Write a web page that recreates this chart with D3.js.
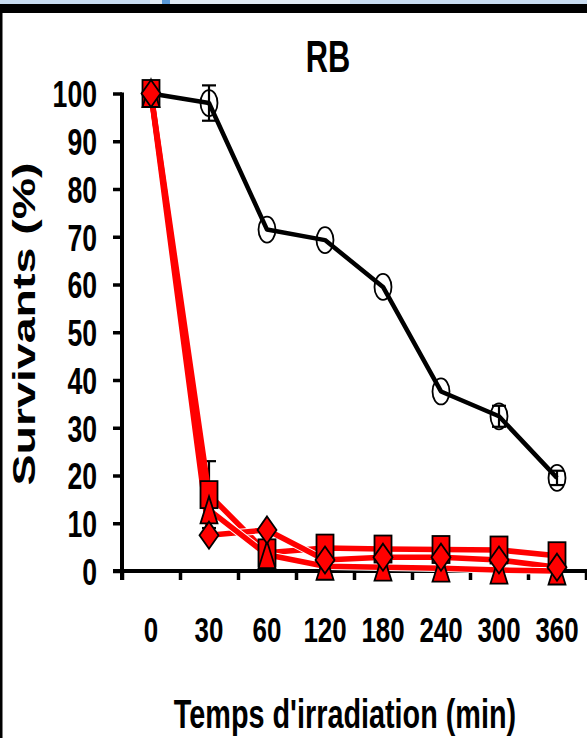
<!DOCTYPE html>
<html><head><meta charset="utf-8">
<script src="https://cdn.jsdelivr.net/npm/d3@7"></script>
<style>html,body{margin:0;padding:0;background:#fff;overflow:hidden}</style>
</head><body>
<svg id="c" width="587" height="738"></svg>
<script>
// ---- data ----
const categories = ["0", "30", "60", "120", "180", "240", "300", "360"];
const controlValues = [100, 98, 71.5, 69.3, 59.5, 37.6, 32.4, 19.5];
const controlErrors = [0, 3.7, 0, 0, 0, 0, 2.2, 1.5];
const squareValues = [100, 16, 3.8, 4.8, 4.6, 4.5, 4.4, 3.2];
const squareErrors = [0, 7, 0, 0, 0, 0, 0, 0];
const triangleValues = [100, 12.8, 3.4, 1.0, 0.8, 0.6, 0.2, 0];
const diamondValues = [100, 7.5, 8.6, 2.3, 2.9, 2.9, 2.3, 0.8];
const yTicks = [0, 10, 20, 30, 40, 50, 60, 70, 80, 90, 100];
const chartTitle = "RB";
const xTitle = "Temps d'irradiation (min)";
const yTitle = "Survivants (%)";

// ---- setup ----
const svg = d3.select("#c");
const FONT = "'Liberation Sans', Arial, sans-serif";
const pLeft = 122, pRight = 586, pTop = 93.5, pBottom = 571;

const x = d3.scaleBand().domain(categories).range([pLeft, pRight]);
const xc = d => x(d) + x.bandwidth() / 2;
const y = d3.scaleLinear().domain([0, 100]).range([pBottom, pTop]);

// window frame
svg.append("rect").attr("x", 0).attr("y", 0).attr("width", 587).attr("height", 5).attr("fill", "#c9ddf1");
svg.append("rect").attr("x", 150).attr("y", 0).attr("width", 200).attr("height", 4).attr("fill", "#e2ebf4");
svg.append("rect").attr("x", 162).attr("y", 0).attr("width", 8).attr("height", 4).attr("fill", "#5a9ad8");
svg.append("rect").attr("x", 0).attr("y", 4).attr("width", 587).attr("height", 9).attr("fill", "#000");
svg.append("rect").attr("x", 0).attr("y", 4).attr("width", 2.5).attr("height", 734).attr("fill", "#000");

function sText(g, txt, tx, ty, size, sx, anchor) {
  return g.append("text").text(txt)
    .attr("transform", `translate(${tx},${ty}) scale(${sx},1)`)
    .attr("font-family", FONT).attr("font-weight", "bold")
    .attr("font-size", size).attr("text-anchor", anchor || "middle").attr("fill", "#000");
}

// title
sText(svg, chartTitle, 328, 72, 44, 0.7);

// y axis
const yAxis = svg.append("g").attr("transform", `translate(${pLeft},0)`)
  .call(d3.axisLeft(y).tickValues(yTicks).tickSize(9).tickSizeOuter(0).tickPadding(0));
yAxis.select(".domain").attr("stroke", "#000").attr("stroke-width", 4)
  .attr("d", `M0,${pTop - 1}V${pBottom + 9}`);
yAxis.selectAll(".tick line").attr("stroke", "#000").attr("stroke-width", 3.5);
yAxis.selectAll(".tick text")
  .attr("font-family", FONT).attr("font-weight", "bold").attr("font-size", 37)
  .attr("fill", "#000").attr("x", 0).attr("dy", "0.36em")
  .attr("transform", "translate(-25,0) scale(0.72,1)");

// x axis: boundary ticks
const xb = d3.scaleLinear().domain([0, categories.length]).range([pLeft, pRight]);
const xAxisTicks = svg.append("g").attr("transform", `translate(0,${pBottom})`)
  .call(d3.axisBottom(xb).ticks(categories.length).tickFormat("").tickSize(9).tickSizeOuter(0));
xAxisTicks.select(".domain").attr("stroke", "#000").attr("stroke-width", 4)
  .attr("d", `M${pLeft - 9},0H587`);
xAxisTicks.selectAll(".tick line").attr("stroke", "#000").attr("stroke-width", 3.5);

// x labels
const xLab = svg.append("g").attr("transform", `translate(0,${pBottom})`)
  .call(d3.axisBottom(x).tickSize(0).tickPadding(0));
xLab.select(".domain").remove();
xLab.selectAll(".tick text")
  .attr("font-family", FONT).attr("font-weight", "bold").attr("font-size", 36)
  .attr("fill", "#000").attr("y", 0).attr("dy", 0)
  .attr("transform", "translate(0,71) scale(0.72,1)");

// axis titles
sText(svg, xTitle, 345, 728, 40, 0.72);
svg.append("text").text(yTitle)
  .attr("transform", "translate(35,324) rotate(-90) scale(1.5,1)")
  .attr("font-family", FONT).attr("font-weight", "bold").attr("font-size", 31)
  .attr("text-anchor", "middle").attr("fill", "#000");

// ---- control series (black, open ellipses) ----
const line = d3.line().x((d, i) => xc(categories[i])).y(d => y(d));
const lineTail = d3.line().defined((d, i) => i >= 1).x((d, i) => xc(categories[i])).y(d => y(d));
svg.append("path").datum(controlValues).attr("d", line)
  .attr("fill", "none").attr("stroke", "#000").attr("stroke-width", 4.5).attr("stroke-linejoin", "round");

function errBars(values, errors, color) {
  const g = svg.append("g").attr("stroke", color).attr("stroke-width", 2.2);
  values.forEach((v, i) => {
    const e = errors[i];
    if (!e) return;
    const cx = xc(categories[i]);
    g.append("line").attr("x1", cx).attr("x2", cx).attr("y1", y(v - e)).attr("y2", y(v + e));
    g.append("line").attr("x1", cx - 7).attr("x2", cx + 7).attr("y1", y(v + e)).attr("y2", y(v + e));
    g.append("line").attr("x1", cx - 7).attr("x2", cx + 7).attr("y1", y(v - e)).attr("y2", y(v - e));
  });
}
errBars(controlValues, controlErrors, "#000");

svg.append("g").selectAll("ellipse").data(controlValues).join("ellipse")
  .attr("cx", (d, i) => xc(categories[i])).attr("cy", d => y(d))
  .attr("rx", 8.5).attr("ry", 13).attr("fill", "none").attr("stroke", "#000").attr("stroke-width", 1.8);

// ---- treated series (red) ----
errBars(squareValues, squareErrors, "#000");
[squareValues, diamondValues, triangleValues].forEach(vals => {
  svg.append("path").datum(vals).attr("d", lineTail)
    .attr("fill", "none").attr("stroke", "#fff").attr("stroke-width", 7.5).attr("stroke-linejoin", "round");
  svg.append("path").datum(vals).attr("d", line)
    .attr("fill", "none").attr("stroke", "#ff0000").attr("stroke-width", 5.5).attr("stroke-linejoin", "round");
});

const W = 17, H = 27;
const mk = { fill: "#ff0000", stroke: "#000", sw: 1.8 };
svg.append("g").selectAll("rect").data(squareValues).join("rect")
  .attr("x", (d, i) => xc(categories[i]) - W / 2).attr("y", d => y(d) - H / 2)
  .attr("width", W).attr("height", H)
  .attr("fill", mk.fill).attr("stroke", mk.stroke).attr("stroke-width", mk.sw);
svg.append("g").selectAll("path").data(triangleValues).join("path")
  .attr("d", (d, i) => {
    const cx = xc(categories[i]), cy = y(d);
    return `M${cx},${cy - H / 2}L${cx + W / 2},${cy + H / 2}L${cx - W / 2},${cy + H / 2}Z`;
  })
  .attr("fill", mk.fill).attr("stroke", mk.stroke).attr("stroke-width", mk.sw).attr("stroke-linejoin", "miter");
svg.append("g").selectAll("path").data(diamondValues).join("path")
  .attr("d", (d, i) => {
    const cx = xc(categories[i]), cy = y(d);
    return `M${cx},${cy - H / 2}L${cx + W / 2 + 1},${cy}L${cx},${cy + H / 2}L${cx - W / 2 - 1},${cy}Z`;
  })
  .attr("fill", mk.fill).attr("stroke", mk.stroke).attr("stroke-width", mk.sw);
</script>
</body></html>
